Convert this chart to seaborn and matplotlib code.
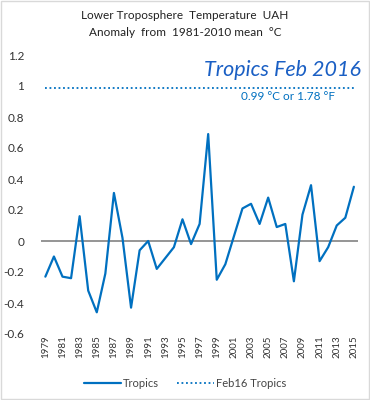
import matplotlib
matplotlib.use("Agg")
import matplotlib.pyplot as plt
import seaborn as sns
import pandas as pd
from matplotlib.patches import Rectangle

years = list(range(1979, 2016))
tropics = [-0.23, -0.10, -0.23, -0.24, 0.16, -0.32, -0.46, -0.21, 0.31, 0.02,
           -0.43, -0.06, 0.00, -0.18, -0.11, -0.04, 0.14, -0.02, 0.11, 0.69,
           -0.25, -0.15, 0.03, 0.21, 0.24, 0.11, 0.28, 0.09, 0.11, -0.26,
           0.17, 0.36, -0.13, -0.04, 0.10, 0.15, 0.35]
feb16_value = 0.99
feb16 = [feb16_value] * len(years)
title_lines = ["Lower Troposphere  Temperature  UAH", "Anomaly  from  1981-2010 mean  \u00b0C"]
annot_big = "Tropics Feb 2016"
annot_small = "0.99 \u00b0C or 1.78 \u00b0F"
yticks = [-0.6, -0.4, -0.2, 0, 0.2, 0.4, 0.6, 0.8, 1, 1.2]
xticks = list(range(1979, 2016, 2))

sns.set_theme(style="white")
plt.rcParams['font.family'] = ['Lato', 'DejaVu Sans']

blue = "#0070C0"
df = pd.DataFrame({"year": years, "Tropics": tropics, "Feb16 Tropics": feb16})

fig = plt.figure(figsize=(3.7, 4.0), dpi=100)
ax = fig.add_axes([0.111, 0.165, 0.857, 0.6975])

ax.axhline(0, color="#8c8c8c", lw=1.3, zorder=1)
sns.lineplot(data=df, x="year", y="Tropics", ax=ax, color=blue, lw=1.6, label="Tropics", zorder=3)
sns.lineplot(data=df, x="year", y="Feb16 Tropics", ax=ax, color=blue, lw=1.3,
             linestyle=(0, (1, 1.5)), label="Feb16 Tropics", zorder=2)

ax.set_xlim(1978.5, 2015.5)
ax.set_ylim(-0.6, 1.2)
ax.set_yticks(yticks)
ax.set_yticklabels([f"{v:g}" for v in yticks], fontsize=8.5, color="#333333")
ax.set_xticks(xticks)
ax.set_xticklabels([str(x) for x in xticks], rotation=90, fontsize=7, color="#333333")
ax.tick_params(axis="y", length=0, pad=12)
ax.tick_params(axis="x", length=0, pad=1)
ax.set_xlabel("")
ax.set_ylabel("")
for s in ax.spines.values():
    s.set_visible(False)

ax.text(2015.8, 1.04, annot_big, color="#1a5fc4", fontsize=15.5, style="italic",
        ha="right", va="bottom")
ax.text(2007.3, 0.93, annot_small, color=blue, fontsize=8.5, ha="center", va="center")

fig.text(0.5, 0.962, title_lines[0], ha="center", va="center", fontsize=8.5, color="#222222")
fig.text(0.5, 0.918, title_lines[1], ha="center", va="center", fontsize=8.5, color="#222222")

leg = ax.legend(loc="center", bbox_to_anchor=(0.455, -0.176), ncol=2, frameon=False,
                fontsize=8, handlelength=3.3, columnspacing=1.6, handletextpad=0.2)
for t in leg.get_texts():
    t.set_color("#444444")

fig.patches.append(Rectangle((0.003, 0.003), 0.994, 0.994, transform=fig.transFigure,
                             fill=False, edgecolor="#d9d9d9", lw=1))

fig.savefig("out.png", dpi=100, facecolor="white")
